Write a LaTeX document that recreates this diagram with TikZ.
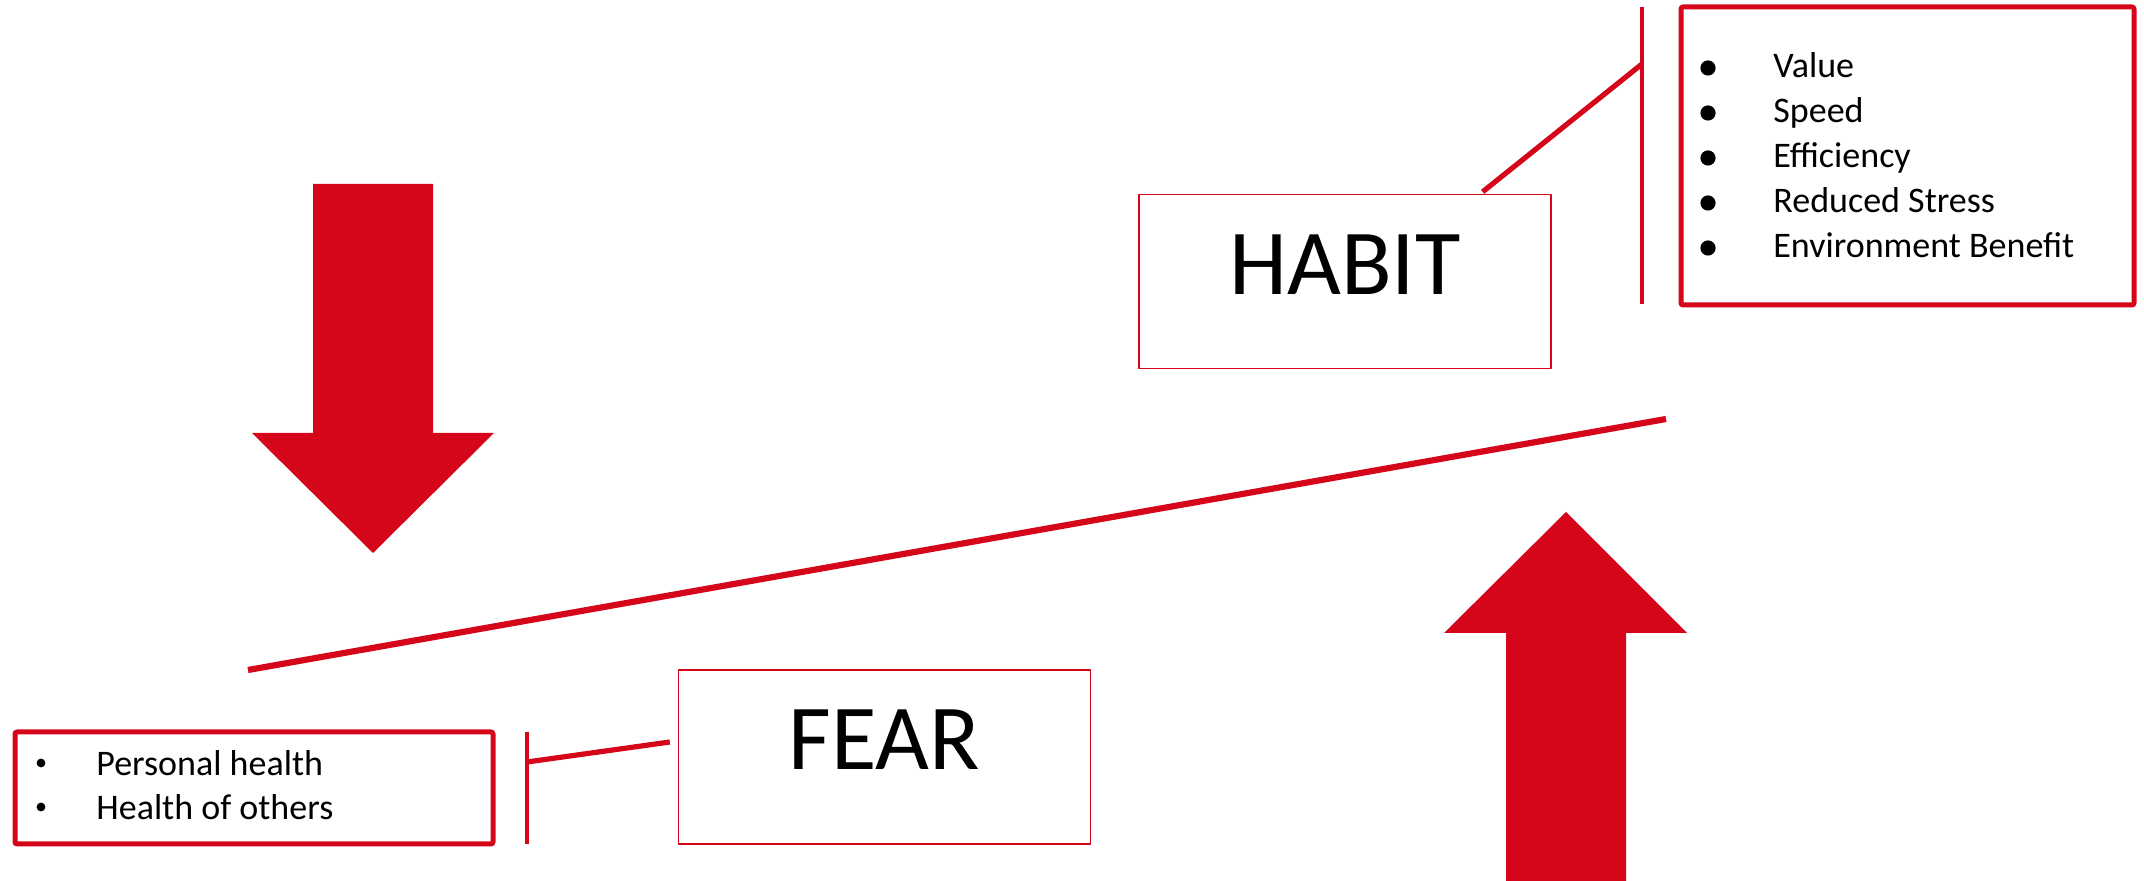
\documentclass[tikz,border=0pt]{standalone}
\usepackage{fontspec}
\setmainfont{Carlito}
\usetikzlibrary{calc}
\definecolor{boxred}{RGB}{213,6,25}

\begin{document}
\begin{tikzpicture}[x=0.5pt, y=-0.5pt, line join=round]

	\tikzset{
		titlebox/.style={draw=boxred, line width=0.7pt, minimum width=206pt,
			minimum height=87pt, inner sep=0pt,
			font=\fontsize{46.5}{50}\selectfont, text depth=17pt},
		listbox/.style={draw=boxred, line width=2.5pt, rounded corners=1pt},
		listtext/.style={anchor=base west, inner sep=0pt,
			font=\fontsize{18}{22}\selectfont},
		bar/.style={draw=boxred, line width=2pt},
		link/.style={draw=boxred, line width=2.6pt},
	}

	\useasboundingbox (0,0) rectangle (2144,881);

	% title boxes
	\node[titlebox] (habit) at (1345,281.5) {HABIT};
	\node[titlebox] (fear) at (884.5,757) {FEAR};

	% list boxes
	\node[listbox, minimum width=226.5pt, minimum height=149pt] (habitlist) at (1907.5,156) {};
	\node[listbox, minimum width=239pt, minimum height=56pt] (fearlist) at (254,788) {};

	% habit items
	\foreach \txt [count=\i] in {Value, Speed, Efficiency, Reduced Stress, Environment Benefit} {
		\fill (1708,{23+45*\i}) circle (3.8pt);
		\node[listtext] (habititem\i) at (1773,{33+45*\i}) {\txt};
	}

	% fear items
	\foreach \txt [count=\i] in {Personal health, Health of others} {
		\fill (41,{719+44*\i}) circle (2.2pt);
		\node[listtext] (fearitem\i) at (96,{732+44*\i}) {\txt};
	}

	% bars
	\coordinate (hbartop) at (1642,7);
	\coordinate (hbarbot) at (1642,304);
	\coordinate (hjoin) at (1642,64);
	\draw[bar] (hbartop) -- (hbarbot);

	\coordinate (fbartop) at (527,732);
	\coordinate (fbarbot) at (527,844);
	\coordinate (fjoin) at (527,762);
	\draw[bar] (fbartop) -- (fbarbot);

	% connectors
	\draw[link] ($(habit.north west)!0.833!(habit.north east)+(0,-2)$) -- (hjoin);
	\draw[link] (fjoin) -- ($(fear.west)+(-8,-15)$);

	% balance line
	\coordinate (lowend) at (248,670);
	\coordinate (highend) at (1666,419);
	\draw[boxred, line width=3.1pt] (lowend) -- (highend);

	% arrows
	\fill[boxred] (313,184) -- (433,184) -- (433,433) -- (494,433)
		-- (373,553) -- (252,433) -- (313,433) -- cycle;
	\fill[boxred] (1506,881) -- (1506,633) -- (1444,633) -- (1566,512)
		-- (1687,633) -- (1626,633) -- (1626,881) -- cycle;

\end{tikzpicture}
\end{document}
